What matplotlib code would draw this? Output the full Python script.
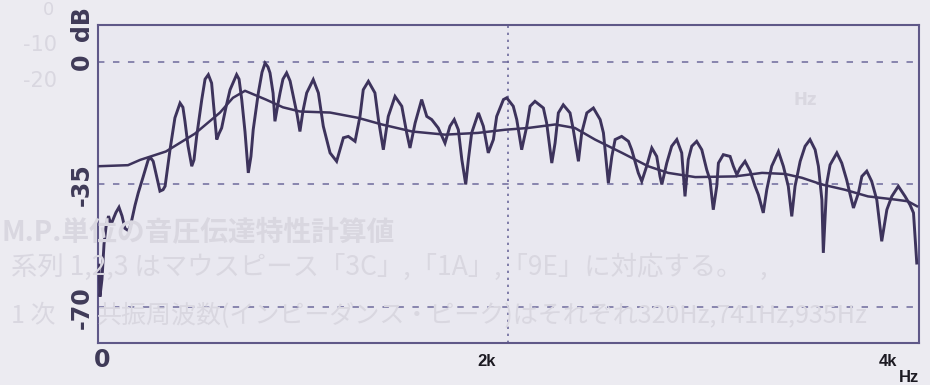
import matplotlib
matplotlib.use("Agg")
import matplotlib.pyplot as plt
import matplotlib.transforms as mtransforms

# ---------------- data ----------------
# jagged transfer characteristic (Hz, dB)
freq_hz = [2, 7, 17, 27, 37, 49, 61, 71, 85, 100, 115, 129, 149, 163, 178, 194, 217,
           243, 256, 267, 285, 300, 315, 325, 349, 373, 398, 412, 422, 437, 455, 466,
           479, 504, 520, 536, 552, 564, 577, 588, 601, 622, 642, 674, 686, 699, 715,
           731, 744, 755, 780, 798, 813, 827, 837, 852, 861, 876, 886, 900, 918, 935,
           951, 969, 983, 998, 1016, 1048, 1073, 1097, 1130, 1162, 1195, 1219, 1252,
           1276, 1292, 1317, 1349, 1366, 1390, 1414, 1447, 1480, 1504, 1520, 1545,
           1577, 1602, 1626, 1658, 1691, 1715, 1736, 1756, 1773, 1792, 1805, 1821,
           1854, 1878, 1902, 1927, 1943, 1976, 1992, 2024, 2041, 2057, 2065, 2090,
           2106, 2130, 2171, 2187, 2212, 2228, 2244, 2268, 2301, 2317, 2342, 2358,
           2383, 2415, 2448, 2464, 2488, 2505, 2521, 2553, 2586, 2602, 2634, 2651,
           2675, 2700, 2724, 2740, 2749, 2773, 2797, 2822, 2846, 2862, 2878, 2895,
           2919, 2944, 2968, 2984, 3000, 3017, 3025, 3049, 3082, 3098, 3115, 3131,
           3155, 3180, 3204, 3220, 3244, 3261, 3285, 3318, 3342, 3366, 3383, 3399,
           3424, 3448, 3472, 3497, 3513, 3530, 3537, 3554, 3570, 3603, 3627, 3651,
           3668, 3684, 3708, 3725, 3749, 3773, 3798, 3822, 3847, 3871, 3903, 3936,
           3960, 3977, 3993]
level_db = [-58, -67, -62, -52, -47, -44, -46.5, -45, -43, -41.5, -44, -47.5, -48.3, -45,
            -41, -37.4, -33, -27.9, -27.5, -28.4, -33, -36.9, -36.5, -35.5, -25.1, -16,
            -11.8, -13, -17, -24, -29.8, -28, -21.3, -10.8, -5, -3.7, -6.1, -14, -22.2,
            -20.5, -18.9, -13, -8, -3.7, -5, -10.8, -20, -31.7, -27, -19.4, -8.9, -3,
            -0.4, -1.5, -3.2, -9, -17, -12, -8.9, -5, -3.2, -5.5, -9.9, -15, -19.9, -14,
            -8.9, -5.1, -8.9, -18.4, -26, -28.4, -21.7, -21.3, -22.7, -15.6, -8.0, -5.6,
            -8.9, -16.5, -25.1, -15.6, -9.9, -12.7, -20.3, -24.6, -17.5, -10.8, -15.6,
            -16.5, -18.9, -23.2, -18.4, -16.5, -19.4, -27.9, -35.0, -27.9, -20.3, -14.6,
            -18.4, -26, -22.2, -15.6, -10.8, -10.3, -12.7, -16.5, -22.2, -25.1, -18.4,
            -12.7, -11.3, -13.2, -17.5, -28.9, -23.2, -14.6, -12.3, -14.6, -19.4, -28.4,
            -20.3, -14.6, -13.2, -16.5, -20.3, -34.6, -27, -22.2, -21.3, -22.7, -25.1,
            -31.7, -34.1, -29.8, -24.6, -27, -32.7, -35, -28.9, -24.1, -22.2, -26, -38.4,
            -27.9, -24.1, -22.7, -25.1, -30.8, -33.7, -42.2, -35.5, -28.9, -26.5, -27,
            -29.8, -32.2, -30.3, -28.4, -31.2, -35.5, -37.9, -43.1, -36.5, -29.8, -25.6,
            -29.8, -35.5, -44.1, -35.5, -28.4, -24.1, -22.2, -25.1, -29.8, -39.4, -54.5,
            -34.6, -29.4, -26, -28.9, -33.7, -37.9, -41.7, -37.5, -32.7, -31.2, -34.1,
            -39.4, -51.2, -42.2, -38.4, -35.5, -38.4, -40.8, -43.1, -57.4]

# smooth envelope (Hz, dB)
env_hz = [0, 144, 203, 329, 471, 593, 656, 715, 817, 900, 983, 1130, 1266, 1383, 1530,
          1691, 1852, 1984, 2096, 2228, 2325, 2423, 2555, 2682, 2780, 2912, 3106, 3238,
          3350, 3433, 3530, 3642, 3755, 3887, 3950, 3994]
env_db = [-29.8, -29.5, -28, -25.6, -20.5, -14.5, -10.3, -8.3, -10.8, -13.0, -14.2, -14.5,
          -16, -17.9, -19.9, -20.8, -20.3, -19.4, -18.9, -17.9, -18.9, -22.2, -26, -29.8,
          -31.7, -32.9, -32.7, -31.7, -32.0, -33.1, -35, -36.5, -38.4, -39.3, -39.8, -41.2]

y_ticks = [0, -35, -70]
y_tick_labels = ["0", "-35", "-70"]
x_grid = [2000]
x_tick_pos = [17, 1896, 3853]
x_tick_labels = ["0", "2k", "4k"]

# ---------------- style ----------------
BG = "#ecebf1"
AXBG = "#e9e8f0"
LINE = "#3d335c"
GRID = "#6e6a9c"
SPINE = "#5f5888"
FAINT = "#d9d7e0"
cond = ["Liberation Sans Narrow", "DejaVu Sans"]
cjk = ["Noto Sans CJK JP", "DejaVu Sans"]

fig = plt.figure(figsize=(9.3, 3.85), dpi=100, facecolor=BG)
ax = fig.add_axes([0.1059, 0.1099, 0.8823, 0.8252])
ax.set_facecolor(AXBG)
ax.set_xlim(0, 4004)
ax.set_ylim(-80.1, 10.46)

for yv in y_ticks:
    ax.axhline(yv, color=GRID, lw=1.1, ls=(0, (4.2, 5.6)), zorder=1)
for xv in x_grid:
    ax.axvline(xv, color=GRID, lw=1.2, ls=(0, (1.4, 2.8)), zorder=1)

ax.plot(env_hz, env_db, color=LINE, lw=1.8, zorder=3, solid_joinstyle="round")
ax.plot(freq_hz, level_db, color=LINE, lw=2.1, zorder=4, solid_joinstyle="miter")

ax.set_xticks([])
ax.set_yticks([])
for s in ax.spines.values():
    s.set_color(SPINE)
    s.set_linewidth(1.5)

# y labels (rotated, condensed bold)
tr_y = mtransforms.blended_transform_factory(ax.transAxes, ax.transData)
for yv, lab in zip(y_ticks, y_tick_labels):
    ax.text(-0.020, yv, lab, transform=tr_y, rotation=90, ha="center", va="center",
            fontsize=17, fontweight="bold", family=cond, color="#3f3a58", clip_on=False)
ax.text(-0.020, 10.9, "dB", transform=tr_y, rotation=90, ha="center", va="center",
        fontsize=17, fontweight="bold", family=cond, color="#3f3a58", clip_on=False)

# x labels
tr_x = mtransforms.blended_transform_factory(ax.transData, ax.transAxes)
ax.text(x_tick_pos[0], -0.053, x_tick_labels[0], transform=tr_x, ha="center", va="center",
        fontsize=17, fontweight="bold", family=cond, color="#3f3a58", clip_on=False)
for xv, lab in zip(x_tick_pos[1:], x_tick_labels[1:]):
    ax.text(xv, -0.058, lab, transform=tr_x, ha="center", va="center",
            fontsize=12, fontweight="bold", family=["Liberation Sans", "DejaVu Sans"],
            color="#1c1a22", clip_on=False)
ax.text(3956, -0.086, "Hz", transform=tr_x, ha="center", va="top",
        fontsize=12, fontweight="bold", family=["Liberation Sans", "DejaVu Sans"],
        color="#1c1a22", clip_on=False)

# faint show-through text from the printed page
fig.text(0.002, 0.398, "M.P.単位の音圧伝達特性計算値", fontsize=20, color=FAINT,
         family=cjk, va="center", ha="left", fontweight="bold", zorder=0.5)
fig.text(0.012, 0.305, "系列 1,2,3 はマウスピース「3C」,「1A」,「9E」に対応する。   ,",
         fontsize=19, color=FAINT, family=cjk, va="center", ha="left", zorder=0.5)
fig.text(0.012, 0.182, "1 次", fontsize=18, color=FAINT, family=cjk,
         va="center", ha="left", zorder=0.5)
fig.text(0.104, 0.182, "共振周波数(インピーダンス・ピーク)はそれぞれ320Hz,741Hz,935Hz",
         fontsize=18, color=FAINT, family=cjk, va="center", ha="left", zorder=0.5)
fig.text(0.052, 0.975, "0", fontsize=13, color=FAINT, ha="center", va="center")
fig.text(0.043, 0.882, "-10", fontsize=15, color=FAINT, ha="center", va="center")
fig.text(0.043, 0.790, "-20", fontsize=15, color=FAINT, ha="center", va="center")
fig.text(0.866, 0.74, "Hz", fontsize=12, color=FAINT, ha="center", va="center",
         fontweight="bold")

fig.savefig("out.png", dpi=100, facecolor=BG)
